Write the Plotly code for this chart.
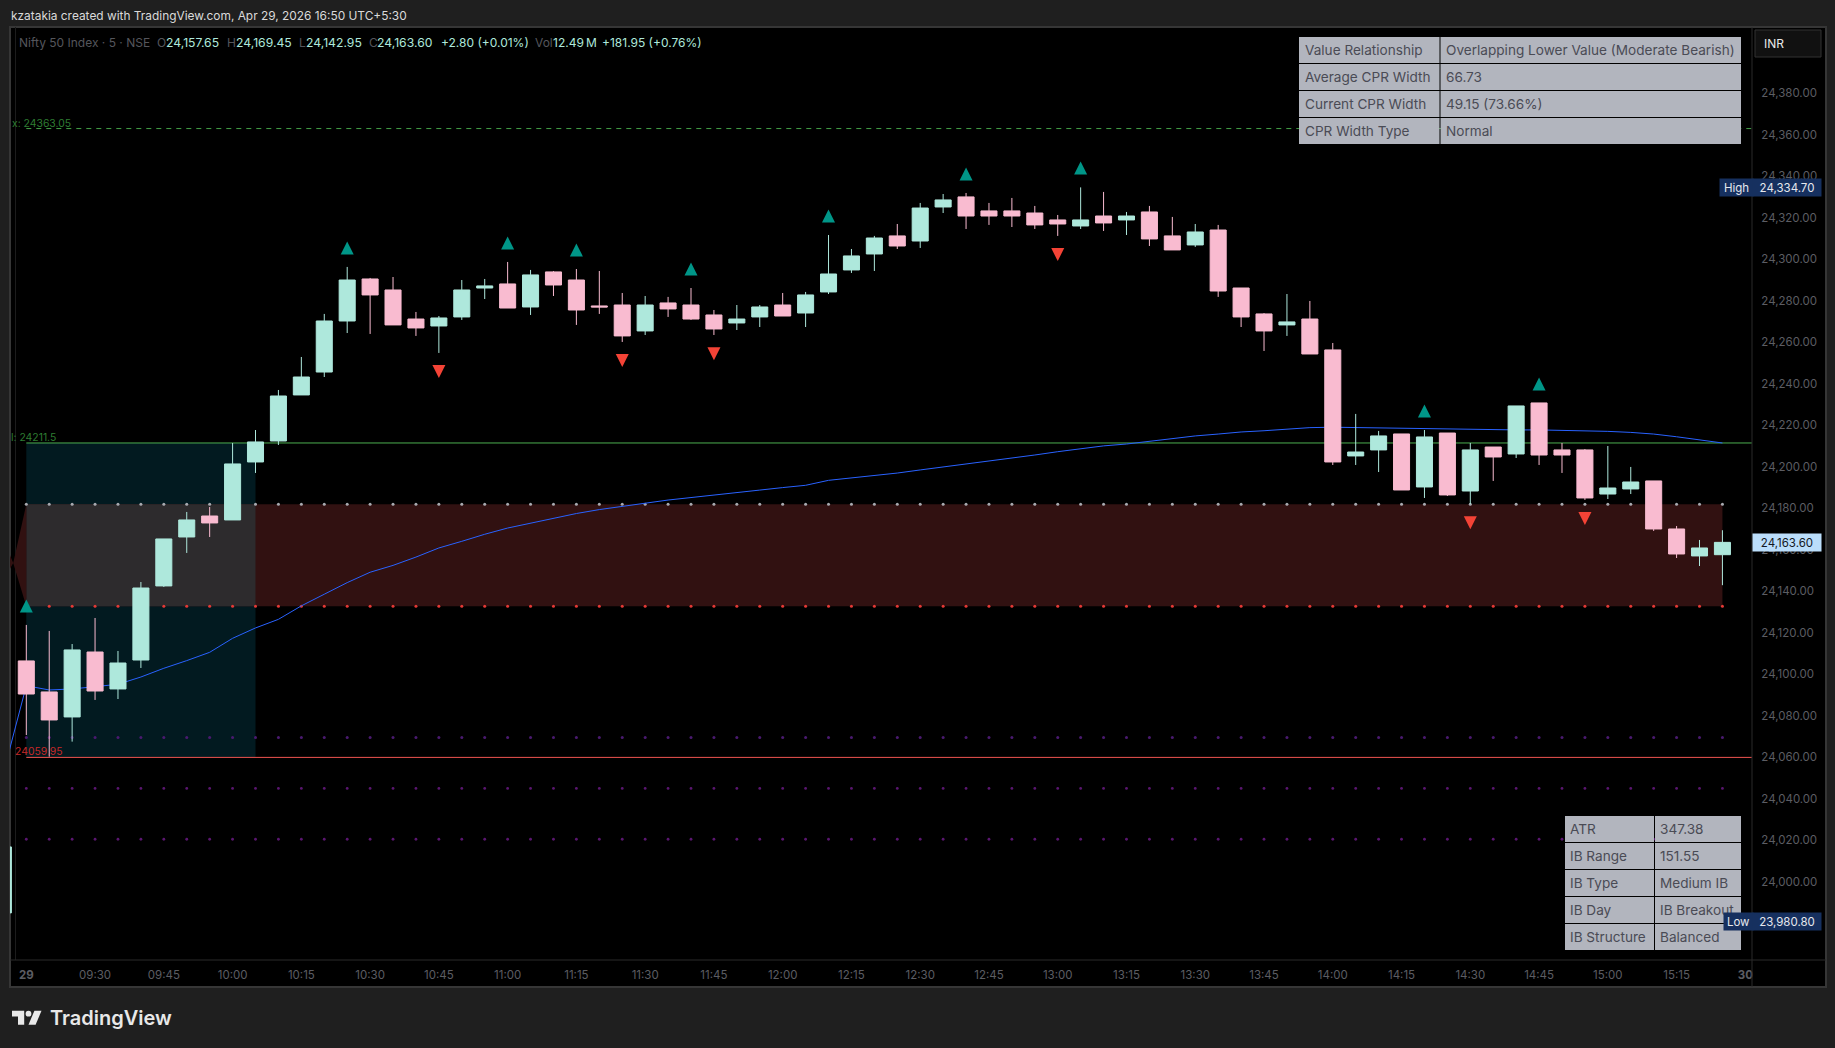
import plotly.graph_objects as go

# ---------- data ----------
bar_index = list(range(-1, 75))
opens = [23985.0,
 24106.45,24091.5,24079.45,24110.75,24092.95,24106.9,24142.6,24166.2,24176.3,24174.4,
 24202.35,24212.45,24234.65,24245.7,24270.3,24290.55,24285.25,24271.25,24267.9,24272.25,
 24286.2,24288.15,24277.05,24293.95,24290.05,24277.55,24278.0,24265.5,24279.0,24278.0,
 24273.2,24269.35,24272.25,24278.0,24274.15,24284.3,24294.9,24302.6,24311.3,24308.85,
 24325.25,24330.1,24323.35,24323.35,24322.35,24319.0,24316.1,24320.9,24319.0,24322.85,
 24311.3,24306.95,24314.15,24286.2,24273.7,24268.4,24271.25,24256.35,24205.25,24208.15,
 24215.85,24190.3,24216.3,24188.35,24209.55,24206.2,24230.8,24208.15,24208.15,24186.9,
 24189.35,24193.2,24170.05,24157.05,24157.65]
highs = [24018.0,
 24123.8,24120.9,24114.6,24127.15,24111.25,24144.5,24165.25,24178.25,24180.65,24211.5,
 24217.75,24237.05,24252.95,24273.7,24296.35,24291.05,24291.5,24274.65,24272.7,24290.05,
 24290.55,24298.75,24294.9,24294.4,24295.35,24294.4,24283.8,24282.35,24281.9,24286.2,
 24275.6,24278.0,24278.0,24283.8,24284.3,24311.75,24305.0,24311.3,24317.05,24327.2,
 24331.5,24332.0,24327.2,24329.6,24325.75,24321.4,24334.7,24332.5,24322.85,24325.75,
 24320.45,24317.05,24316.6,24286.2,24274.15,24283.3,24279.95,24259.7,24225.5,24217.3,
 24215.85,24217.75,24216.3,24211.5,24209.55,24229.35,24230.8,24211.5,24208.6,24210.05,
 24199.95,24193.2,24171.5,24164.75,24169.45]
lows = [23980.8,
 24070.75,24060.3,24067.55,24087.65,24088.1,24103.05,24142.1,24158.5,24166.2,24174.4,
 24197.05,24210.55,24234.65,24243.3,24264.5,24264.05,24268.4,24263.1,24254.9,24270.8,
 24280.9,24276.55,24273.2,24282.35,24268.4,24273.7,24260.2,24263.55,24272.25,24270.8,
 24263.55,24265.95,24267.4,24272.7,24267.4,24283.3,24293.45,24294.4,24305.0,24305.5,
 24322.35,24314.65,24316.6,24315.6,24314.65,24311.3,24314.65,24313.7,24311.75,24306.45,
 24304.55,24306.0,24281.9,24267.4,24255.85,24263.1,24254.4,24200.9,24200.9,24197.5,
 24188.85,24185.0,24185.95,24182.1,24193.2,24204.25,24200.9,24197.05,24184.05,24184.5,
 24186.9,24169.1,24156.05,24152.2,24142.95]
closes = [24016.8,
 24090.5,24078.0,24111.75,24091.95,24105.45,24141.6,24165.25,24174.4,24172.95,24201.4,
 24212.0,24234.15,24243.3,24270.3,24290.05,24282.85,24268.4,24266.95,24271.75,24285.25,
 24287.2,24276.55,24292.5,24287.65,24275.6,24277.05,24263.1,24278.0,24276.1,24271.25,
 24266.45,24271.25,24277.05,24272.7,24282.85,24292.95,24301.65,24310.3,24306.45,24324.75,
 24328.65,24320.9,24320.9,24320.9,24316.6,24317.05,24319.0,24317.55,24320.9,24309.85,
 24304.55,24313.2,24284.75,24272.25,24265.5,24269.85,24254.4,24202.35,24207.15,24214.9,
 24188.85,24214.4,24186.45,24208.15,24204.75,24229.35,24205.7,24205.7,24185.0,24189.8,
 24192.7,24170.05,24158.0,24160.9,24163.6]

ma_index = list(range(-1, 75))
ma_values = [24052.4,
 24094.5,24092.45,24092.95,24094.05,24095.2,24098.7,24102.9,24106.6,24110.6,24117.35,
 24122.35,24126.5,24133.0,24138.6,24144.2,24149.2,24152.5,24156.5,24160.9,24164.1,
 24167.5,24170.5,24172.9,24175.1,24177.5,24179.4,24181.0,24182.6,24184.0,24185.2,
 24186.3,24187.7,24188.8,24190.0,24191.1,24193.5,24194.6,24195.9,24197.0,24198.5,
 24199.9,24201.5,24202.7,24204.1,24205.7,24207.3,24208.8,24210.1,24211.0,24212.3,
 24213.4,24214.9,24215.8,24216.8,24217.4,24218.1,24218.9,24219.1,24218.9,24218.7,
 24218.6,24218.4,24218.2,24218.1,24217.9,24217.8,24217.8,24217.6,24217.4,24217.1,
 24216.6,24215.8,24214.5,24213.1,24211.5]

up_index = [0,14,21,24,29,35,41,46,61,66]
up_price = [24132.95,24305.5,24307.9,24304.55,24295.35,24320.9,24341.15,24344.05,24226.95,24239.95]
down_index = [18,26,30,45,63,68]
down_price = [24245.9,24251.2,24254.55,24302.3,24173.1,24175.05]

ib_high = 24211.5
ib_low = 24059.95
prior_high = 24363.05
cpr_top = 24181.95
cpr_bottom = 24132.80
s1_level = 24069.6
s2_level = 24045.0
s3_level = 24020.5
ib_last_bar = 10
session_bars = list(range(0, 75))
prior_cpr_x = [-1, -0.57, 0, 0, -0.57, -1]
prior_cpr_y = [24165.0, 24153.7, 24181.95, 24132.8, 24153.7, 24145.0]

last_price = 24163.60
day_high = 24334.70
day_low = 23980.80

price_ticks = [24380,24360,24340,24320,24300,24280,24260,24240,24220,24200,24180,24160,24140,24120,24100,24080,24060,24040,24020,24000]
time_tick_pos = list(range(0, 76, 3))
time_tick_text = ["<b>29</b>","09:30","09:45","10:00","10:15","10:30","10:45","11:00","11:15","11:30","11:45",
                  "12:00","12:15","12:30","12:45","13:00","13:15","13:30","13:45","14:00","14:15","14:30",
                  "14:45","15:00","15:15","<b>30</b>"]

table_top = [["Value Relationship","Overlapping Lower Value (Moderate Bearish)"],
             ["Average CPR Width","66.73"],
             ["Current CPR Width","49.15 (73.66%)"],
             ["CPR Width Type","Normal"]]
table_bottom = [["ATR","347.38"],["IB Range","151.55"],["IB Type","Medium IB"],
                ["IB Day","IB Breakout"],["IB Structure","Balanced"]]

# ---------- style ----------
FONT = "Inter"
MINT = "#AEE8DC"
PINK = "#F9BBD0"
L, R, T, B = 10, 1752, 27, 960
def fx(p): return (p - L) / (R - L)
def fy(p): return (B - p) / (B - T)

fig = go.Figure()

fig.add_trace(go.Scatter(x=prior_cpr_x, y=prior_cpr_y, mode="lines", fill="toself", fillcolor="#311111",
                         line=dict(width=0), hoverinfo="skip", zorder=0))
fig.add_trace(go.Scatter(x=[0, 76], y=[ib_high, ib_high], mode="lines", line=dict(color="#4CAF50", width=1), zorder=0))
fig.add_trace(go.Scatter(x=[0, 76], y=[ib_low, ib_low], mode="lines", line=dict(color="#EF5350", width=1), zorder=0))
fig.add_trace(go.Scatter(x=[0, 75.7], y=[prior_high, prior_high], mode="lines",
                         line=dict(color="#43A047", width=1, dash="5px,5px"), zorder=0))
for lvl, col, size in [(cpr_top, "#A8AAB0", 3.0), (cpr_bottom, "#E53935", 3.0),
                       (s1_level, "#4A1A70", 3.0), (s2_level, "#5A1670", 2.8), (s3_level, "#5A1670", 2.8)]:
    fig.add_trace(go.Scatter(x=session_bars, y=[lvl]*len(session_bars), mode="markers",
                             marker=dict(color=col, size=size, line=dict(width=0)), zorder=0))
fig.add_trace(go.Scatter(x=ma_index, y=ma_values, mode="lines", line=dict(color="#2962FF", width=1), zorder=1))

fig.add_trace(go.Candlestick(x=bar_index, open=opens, high=highs, low=lows, close=closes,
    increasing=dict(line=dict(color=MINT, width=1), fillcolor=MINT),
    decreasing=dict(line=dict(color=PINK, width=1), fillcolor=PINK),
    whiskerwidth=0, zorder=2))

shapes = []
shapes.append(dict(type="rect", xref="paper", yref="paper", x0=fx(10), x1=fx(1826), y0=fy(27), y1=fy(987),
                   fillcolor="#000000", line=dict(color="#363636", width=2), layer="below"))
shapes.append(dict(type="rect", xref="x", yref="y", x0=0, x1=ib_last_bar, y0=ib_low, y1=ib_high,
                   fillcolor="#021A20", line=dict(width=0), layer="below"))
shapes.append(dict(type="rect", xref="x", yref="y", x0=0, x1=bar_index[-1], y0=cpr_bottom, y1=cpr_top,
                   fillcolor="#311111", line=dict(width=0), layer="below"))
shapes.append(dict(type="rect", xref="x", yref="y", x0=0, x1=ib_last_bar, y0=cpr_bottom, y1=cpr_top,
                   fillcolor="#2D2B2D", line=dict(width=0), layer="below"))
shapes.append(dict(type="line", xref="paper", yref="paper", x0=fx(1752), x1=fx(1752), y0=fy(27), y1=fy(987),
                   line=dict(color="#2A2A2A", width=1), layer="above"))
shapes.append(dict(type="line", xref="paper", yref="paper", x0=fx(10), x1=fx(1826), y0=fy(960), y1=fy(960),
                   line=dict(color="#2A2A2A", width=1), layer="above"))
shapes.append(dict(type="line", xref="paper", yref="paper", x0=fx(15.5), x1=fx(15.5), y0=fy(27), y1=fy(960),
                   line=dict(color="#1C1C1C", width=1), layer="below"))

# signal triangles, anchored to bar and price through the axes
for i, p in zip(up_index, up_price):
    shapes.append(dict(type="path", xref="x", yref="y", xsizemode="pixel", ysizemode="pixel", xanchor=i, yanchor=p,
                       path="M -6.5,-6.5 L 6.5,-6.5 L 0,6.5 Z", fillcolor="#009688", line=dict(width=0), layer="above"))
for i, p in zip(down_index, down_price):
    shapes.append(dict(type="path", xref="x", yref="y", xsizemode="pixel", ysizemode="pixel", xanchor=i, yanchor=p,
                       path="M -6.5,6.5 L 6.5,6.5 L 0,-6.5 Z", fillcolor="#F44336", line=dict(width=0), layer="above"))

anns = []
def text(s, x, y, color, size=12, anchor="left", weight=None):
    font = dict(family=FONT, size=size, color=color)
    if weight:
        font["weight"] = weight
    anns.append(dict(text=s, xref="paper", yref="paper", x=fx(x), y=fy(y), xanchor=anchor, yanchor="middle",
                     showarrow=False, font=font, borderpad=0))

def table(rows, x0, xm, x1, ys, dx):
    for i, row in enumerate(rows):
        shapes.append(dict(type="rect", xref="paper", yref="paper", x0=fx(x0), x1=fx(xm-0.5), y0=fy(ys[i]), y1=fy(ys[i+1]-1),
                           fillcolor="#B2B5BE", line=dict(width=0), layer="above"))
        shapes.append(dict(type="rect", xref="paper", yref="paper", x0=fx(xm+0.5), x1=fx(x1), y0=fy(ys[i]), y1=fy(ys[i+1]-1),
                           fillcolor="#B2B5BE", line=dict(width=0), layer="above"))
        my = (ys[i] + ys[i+1] - 1) / 2
        text(row[0], x0 + 5.5 - dx, my, "#4A4B55", 13.6)
        text(row[1], xm + 6 - dx, my, "#4A4B55", 13.6)

table(table_top, 1299, 1440, 1741, [37, 64, 91, 118, 145], 1)
table(table_bottom, 1565, 1654.5, 1741, [816, 843, 870, 897, 924, 951], 2)

text("kzatakia created with TradingView.com, Apr 29, 2026 16:50 UTC+5:30", 10, 15.5, "#DADADA", 11.9)
GREY = "#55565C"
text("Nifty 50 Index · 5 · NSE", 17.5, 42.5, GREY, 12)
for lab, lx, val, vx in [("O", 156, "24,157.65", 164.5), ("H", 226, "24,169.45", 235),
                         ("L", 298, "24,142.95", 305), ("C", 368, "24,163.60", 376)]:
    text(lab, lx, 42.5, GREY, 12)
    text(val, vx, 42.5, MINT, 12.2)
text("+2.80 (+0.01%)", 440, 42.5, MINT, 12)
text("Vol", 534, 42.5, GREY, 12)
text("12.49\u2009M", 551.5, 42.5, MINT, 12)
text("+181.95 (+0.76%)", 601, 42.5, MINT, 12)

text("x: 24363.05", 10.5, 123.5, "#2E7D32", 10.4)
text("l: 24211.5", 10, 437.5, "#2E7D32", 10.4)
text("24059.95", 13.5, 751.5, "#C62828", 10.4)

def tag(s, x0, x1, price, bg, fg, size=11.5):
    anns.append(dict(text=s, xref="paper", yref="y", x=fx(x0), y=price, xanchor="left", yanchor="middle",
                     width=x1 - x0, height=17, bgcolor=bg, align="center", showarrow=False, borderpad=0,
                     font=dict(family=FONT, size=size, color=fg)))
tag("High", 1719, 1752, day_high, "#16305F", "#E6E8EE")
tag(f"{day_high:,.2f}", 1752, 1820, day_high, "#16305F", "#E6E8EE")
tag("Low", 1723, 1752, day_low, "#16305F", "#E6E8EE")
tag(f"{day_low:,.2f}", 1752, 1820, day_low, "#16305F", "#E6E8EE")
tag(f"{last_price:,.2f}", 1752, 1820, last_price, "#BBDEFB", "#131722")

shapes.append(dict(type="rect", xref="paper", yref="paper", x0=fx(1755), x1=fx(1821), y0=fy(30), y1=fy(57),
                   fillcolor="#111111", line=dict(color="#333333", width=1), layer="above"))
text("INR", 1763, 43.5, "#E8E8E8", 12)

def poly(pts, col):
    d = "M " + " L ".join(f"{fx(a)},{fy(b)}" for a, b in pts) + " Z"
    shapes.append(dict(type="path", xref="paper", yref="paper", path=d, fillcolor=col, line=dict(width=0), layer="above"))
BR = "#E8E8E8"
poly([(12, 1010.7), (24.2, 1010.7), (24.2, 1024.8), (18, 1024.8), (18, 1016.6), (12, 1016.6)], BR)
shapes.append(dict(type="circle", xref="paper", yref="paper", x0=fx(25.6), x1=fx(31.4), y0=fy(1010.8), y1=fy(1016.6),
                   fillcolor=BR, line=dict(width=0), layer="above"))
poly([(34.4, 1010.7), (41.5, 1010.7), (35.6, 1024.8), (28.5, 1024.8)], BR)
text("TradingView", 48.5, 1018, BR, 20, weight=600)

TRANSPARENT = "rgba(0,0,0,0)"
fig.update_layout(
    width=1835, height=1048,
    margin=dict(l=L, r=1835 - R, t=T, b=1048 - B, pad=0),
    paper_bgcolor="#1F1F1F", plot_bgcolor=TRANSPARENT,
    showlegend=False, hovermode=False, boxgap=0.3, boxgroupgap=0,
    font=dict(family=FONT, size=11.5, color="#5C5D63"),
    shapes=shapes, annotations=anns,
    xaxis=dict(range=[-0.711, 75.29], rangeslider=dict(visible=False), showgrid=False, zeroline=False,
               tickmode="array", tickvals=time_tick_pos, ticktext=time_tick_text,
               ticks="outside", ticklen=4, tickcolor=TRANSPARENT, showline=False,
               tickfont=dict(family=FONT, size=11.5, color="#5C5D63")),
    yaxis=dict(range=[23962.3, 24412.0], side="right", showgrid=False, zeroline=False, showline=False,
               tickmode="array", tickvals=price_ticks, ticktext=[f"{v:,.2f}" for v in price_ticks],
               ticks="outside", ticklen=6, tickcolor=TRANSPARENT,
               tickfont=dict(family=FONT, size=11.5, color="#5C5D63")),
)
fig.write_html("out.html", config=dict(displayModeBar=False),
               post_script="document.body.style.margin='0';document.body.style.background='#1F1F1F';document.documentElement.style.overflow='hidden';")
